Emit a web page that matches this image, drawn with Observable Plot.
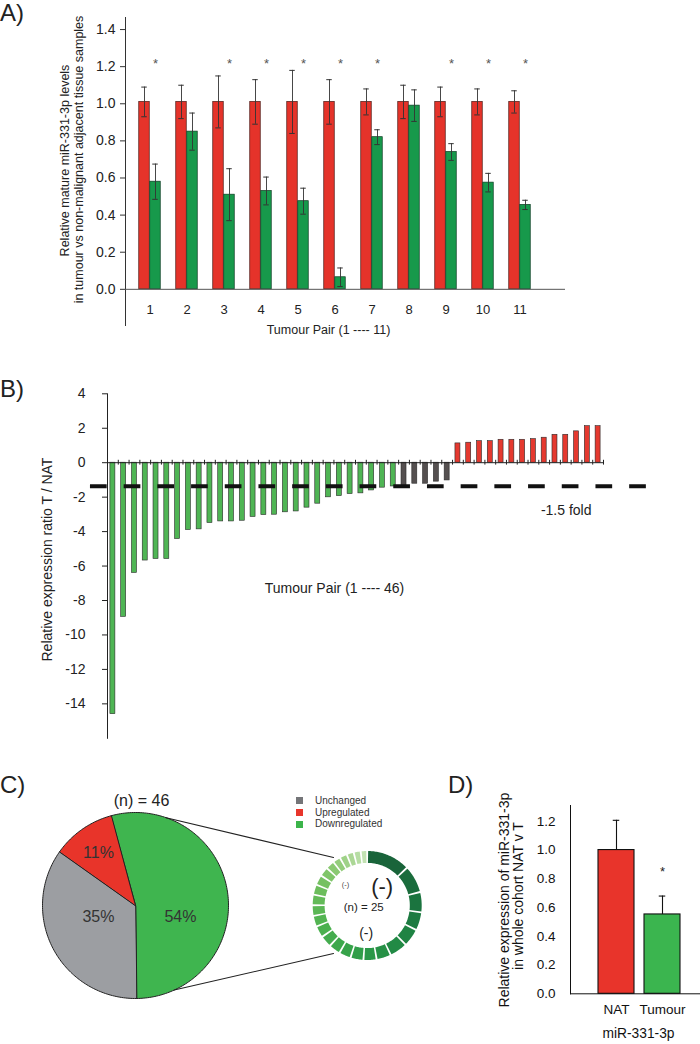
<!DOCTYPE html>
<html><head><meta charset="utf-8">
<script src="https://cdn.jsdelivr.net/npm/d3@7"></script>
<script src="https://cdn.jsdelivr.net/npm/@observablehq/plot@0.6"></script>
<style>
html,body{margin:0;padding:0;background:#fff;}
#fig{position:relative;width:700px;height:1044px;overflow:hidden;background:#fff;font-family:"Liberation Sans",Arial,Helvetica,sans-serif;color:#222;}
.panel{position:absolute;}
.panel svg{display:block;}
.pa g[aria-label^="y-axis"] text{font-size:14px;font-family:"Liberation Sans",Arial,sans-serif;fill:#222;}
.pb g[aria-label^="y-axis"] text{font-size:14px;font-family:"Liberation Sans",Arial,sans-serif;fill:#222;}
.pd g[aria-label^="y-axis"] text{font-size:13.5px;font-family:"Liberation Sans",Arial,sans-serif;fill:#111;}
.tag{position:absolute;font-size:24px;line-height:24px;color:#222;}
.legend{position:absolute;font-size:10px;color:#333;}
.legend .row{display:flex;align-items:center;height:11.7px;line-height:11.7px;white-space:nowrap;}
.legend .sw{display:inline-block;width:7px;height:7px;margin-right:12px;}
</style></head><body><div id="fig"></div>
<script>
// ---------------- DATA ----------------
// Panel A: paired samples (NAT normalised to 1, tumour relative)
const pairsA = [1,2,3,4,5,6,7,8,9,10,11];
const natA = [1.01,1.01,1.01,1.01,1.01,1.01,1.01,1.01,1.01,1.01,1.01];
const natErrA = [0.08,0.09,0.14,0.12,0.17,0.12,0.07,0.09,0.08,0.07,0.06];
const tumourA = [0.58,0.85,0.51,0.53,0.475,0.065,0.82,0.99,0.74,0.575,0.455];
const tumourErrA = [0.095,0.10,0.14,0.075,0.07,0.05,0.04,0.085,0.045,0.05,0.025];
const significantA = [1,3,4,5,6,7,9,10,11];
const yTicksA = [0,0.2,0.4,0.6,0.8,1.0,1.2,1.4];
const yLabelA = ["Relative mature miR-331-3p levels","in tumour vs non-malignant adjacent tissue samples"];
const xLabelA = "Tumour Pair (1 ---- 11)";

// Panel B: relative expression ratio T / NAT, 46 pairs
const bDown = [-14.6,-8.95,-6.4,-5.68,-5.59,-5.59,-4.43,-3.91,-3.87,-3.5,-3.41,-3.41,-3.37,-3.15,-3.04,-3.02,-2.88,-2.83,-2.61,-2.38,-2.01,-1.94,-1.82,-1.78,-1.61,-1.45,-1.38];
const bUnchanged = [-1.35,-1.22,-1.22,-1.1,-1.03];
const bUp = [1.12,1.16,1.25,1.25,1.33,1.33,1.33,1.37,1.45,1.62,1.62,1.82,2.12,2.12];
const thresholdB = -1.37;
const yTicksB = [-14,-12,-10,-8,-6,-4,-2,0,2,4];
const yLabelB = "Relative expression ratio T / NAT";
const xLabelB = "Tumour Pair (1 ---- 46)";
const thresholdLabelB = "-1.5 fold";

// Panel C: pie of categories and donut of the downregulated cases
const pieCategories = ["Downregulated","Unchanged","Upregulated"];
const piePercents = [54,35,11];
const pieTotal = 46;
const legendOrder = ["Unchanged","Upregulated","Downregulated"];
const donutTotal = 25;
const donutValues = [14.6,8.95,6.4,5.68,5.59,5.59,4.43,3.91,3.87,3.5,3.41,3.41,3.37,3.15,3.04,3.02,2.88,2.83,2.61,2.38,2.01,1.94,1.82,1.78,1.61];

// Panel D: whole cohort
const groupsD = ["NAT","Tumour"];
const meanD = [1.0,0.552];
const errD = [0.207,0.128];
const significantD = ["Tumour"];
const yTicksD = [0,0.2,0.4,0.6,0.8,1.0,1.2];
const yLabelD = ["Relative expression of miR-331-3p","in whole cohort NAT v T"];
const xLabelD = "miR-331-3p";

// ---------------- HELPERS ----------------
const FONT = '"Liberation Sans", Arial, Helvetica, sans-serif';
const fig = document.getElementById("fig");
function place(node, left, top, cls){
  const d = document.createElement("div");
  d.className = "panel " + cls; d.style.left = left + "px"; d.style.top = top + "px";
  d.appendChild(node); fig.appendChild(d);
}
function tag(txt, left, top){
  const d = document.createElement("div");
  d.className = "tag"; d.textContent = txt; d.style.left = left + "px"; d.style.top = top + "px";
  fig.appendChild(d);
}
const svgStyle = (size, color) => `font-family:${FONT};font-size:${size}px;background:none;overflow:visible;color:${color};`;
const mid = {textAnchor:"middle", lineAnchor:"middle"};

// ---------------- PANEL A ----------------
const rowsA = pairsA.map((p,i)=>({pair:p, nat:natA[i], natErr:natErrA[i], tum:tumourA[i], tumErr:tumourErrA[i]}));
const A_RED = "#e5332a", A_GREEN = "#17994b";
const plotA = Plot.plot({
  width:700, height:340, marginLeft:125, marginRight:135, marginTop:17, marginBottom:15,
  style: svgStyle(14, "#333"),
  x:{type:"band", domain:pairsA, range:[128.25,540.75], padding:0, axis:null},
  y:{domain:[-0.195,1.465], ticks:yTicksA, tickFormat:".1f", tickSize:5, tickPadding:5, line:true, label:null},
  marks:[
    Plot.barY(rowsA, {x:"pair", y:"nat", fill:A_RED, stroke:"#4a1a15", strokeWidth:0.7, insetLeft:7.75, insetRight:18.75}),
    Plot.barY(rowsA, {x:"pair", y:"tum", fill:A_GREEN, stroke:"#0d3b22", strokeWidth:0.7, insetLeft:18.75, insetRight:7.75}),
    Plot.ruleY([0], {stroke:"#555"}),
    Plot.ruleX(rowsA, {x:"pair", y1:d=>d.nat-d.natErr, y2:d=>d.nat+d.natErr, dx:-5.5, stroke:"#333", strokeWidth:0.9}),
    Plot.ruleX(rowsA, {x:"pair", y1:d=>d.tum-d.tumErr, y2:d=>d.tum+d.tumErr, dx:5.5, stroke:"#333", strokeWidth:0.9}),
    Plot.tickY(rowsA, {x:"pair", y:d=>d.nat+d.natErr, insetLeft:10.25, insetRight:21.25, stroke:"#333"}),
    Plot.tickY(rowsA, {x:"pair", y:d=>d.nat-d.natErr, insetLeft:10.25, insetRight:21.25, stroke:"#333"}),
    Plot.tickY(rowsA, {x:"pair", y:d=>d.tum+d.tumErr, insetLeft:21.25, insetRight:10.25, stroke:"#333"}),
    Plot.tickY(rowsA, {x:"pair", y:d=>d.tum-d.tumErr, insetLeft:21.25, insetRight:10.25, stroke:"#333"}),
    Plot.text(significantA, {x:d=>d, y:1.215, text:()=>"*", dx:5.5, fontSize:13, fill:"#555", ...mid}),
    Plot.text(pairsA, {x:d=>d, frameAnchor:"bottom", dy:-16, text:d=>String(d), fontSize:13, fill:"#222", ...mid}),
    Plot.text([xLabelA], {frameAnchor:"bottom", dx:-17, dy:4.3, text:d=>d, fontSize:12.5, fill:"#222", ...mid}),
    Plot.text([yLabelA[0]], {frameAnchor:"left", rotate:-90, dx:-61, dy:-11, text:d=>d, fontSize:12.5, fill:"#222", ...mid}),
    Plot.text([yLabelA[1]], {frameAnchor:"left", rotate:-90, dx:-47, dy:-12, text:d=>d, fontSize:12.5, fill:"#222", ...mid})
  ]
});
place(plotA, 0, 0, "pa");

// ---------------- PANEL B ----------------
const statusB = ["Downregulated","Unchanged","Upregulated"];
const rowsB = [
  ...bDown.map(v=>({v, s:statusB[0]})),
  ...bUnchanged.map(v=>({v, s:statusB[1]})),
  ...bUp.map(v=>({v, s:statusB[2]}))
].map((d,i)=>({...d, pair:i+1}));
const plotB = Plot.plot({
  width:700, height:380, marginLeft:107, marginRight:97, marginTop:23.3, marginBottom:12.2,
  style: svgStyle(14, "#222"),
  x:{domain:[1, rowsB.length+1], axis:null},
  y:{domain:[-16,4], ticks:yTicksB, tickFormat:d=>String(d), tickSize:5, tickPadding:17, line:true, label:null},
  color:{domain:statusB, range:["#4fb554","#555050","#e5392f"]},
  marks:[
    Plot.rect(rowsB, {x1:d=>d.pair, x2:d=>d.pair+1, y1:0, y2:"v", fill:"s", stroke:"#2a2a2a", strokeWidth:0.6, insetLeft:2.9, insetRight:2.9}),
    Plot.ruleY([0], {stroke:"#222"}),
    Plot.ruleX(rowsB, {x:d=>d.pair+1, y1:-0.14, y2:0.14, stroke:"#222"}),
    Plot.ruleY([thresholdB], {x1:-0.58, x2:51.0, stroke:"#111", strokeWidth:4, strokeDasharray:"16.7 17"}),
    Plot.text([xLabelB], {frameAnchor:"top-left", dx:227, dy:194.7, text:d=>d, fontSize:14, fill:"#222", ...mid}),
    Plot.text([thresholdLabelB], {frameAnchor:"top-left", dx:458.7, dy:116.7, text:d=>d, fontSize:14, fill:"#222", ...mid}),
    Plot.text([yLabelB], {frameAnchor:"left", rotate:-90, dx:-59.5, dy:-6.5, text:d=>d, fontSize:14, fill:"#222", ...mid})
  ]
});
place(plotB, 0, 370, "pb");

// ---------------- PANEL C ----------------
const U = 93; // pixels per unit radius of the pie
const deg = Math.PI/180;
const pieColors = {Downregulated:"#3fb54f", Unchanged:"#9c9ea2", Upregulated:"#e8342a"};
const legendColors = {Downregulated:"#3bb44a", Unchanged:"#747578", Upregulated:"#e8352b"};
function arcPoints(a0, a1, rOut, rIn, cx, cy){
  const n = Math.max(2, Math.ceil(Math.abs(a1-a0)/0.02));
  const pts = [];
  for (let k=0;k<=n;k++){ const a=a0+(a1-a0)*k/n; pts.push([cx+rOut*Math.sin(a), cy+rOut*Math.cos(a)]); }
  if (rIn > 0) { for (let k=n;k>=0;k--){ const a=a0+(a1-a0)*k/n; pts.push([cx+rIn*Math.sin(a), cy+rIn*Math.cos(a)]); } }
  else pts.push([cx, cy]);
  return pts;
}
const pieRows = pieCategories.map((c,i)=>({cat:c, pct:piePercents[i]}));
const pieArcs = d3.pie().sort(null).value(d=>d.pct).startAngle(-15*deg).endAngle(345*deg)(pieRows);
const labelNudge = {Downregulated:[-3,17.6], Unchanged:[5.8,-11.4], Upregulated:[-9.4,-13.3]};
const donutC = {x:231.7/U, y:0, rOut:54.5/U, rIn:42.6/U};
const donutArcs = d3.pie().sort(null).value(d=>d).startAngle(0).endAngle(2*Math.PI).padAngle(0.035)(donutValues);
const donutRamp = d3.interpolateRgbBasis(["#19643a","#1d8a45","#3aa94b","#5cb853","#8ac86c","#c2e2b2"]);
const connectors = [[19.2,324.9],[155.4,215.1]];
const connectorR = 58.6/U;

const marksC = [];
pieArcs.forEach(a=>{
  marksC.push(Plot.line(arcPoints(a.startAngle, a.endAngle, 1, 0, 0, 0), {x:d=>d[0], y:d=>d[1], curve:"linear-closed", fill:pieColors[a.data.cat], stroke:"#222", strokeWidth:1, strokeLinejoin:"round"}));
});
donutArcs.forEach((a,i)=>{
  const p = a.padAngle/2;
  marksC.push(Plot.line(arcPoints(a.startAngle+p, a.endAngle-p, donutC.rOut, donutC.rIn, donutC.x, donutC.y), {x:d=>d[0], y:d=>d[1], curve:"linear-closed", fill:donutRamp(i/(donutValues.length-1)), stroke:"none"}));
});
connectors.forEach(([pa, da])=>{
  const pts = [[Math.sin(pa*deg), Math.cos(pa*deg)], [donutC.x+connectorR*Math.sin(da*deg), donutC.y+connectorR*Math.cos(da*deg)]];
  marksC.push(Plot.line(pts, {x:d=>d[0], y:d=>d[1], stroke:"#222", strokeWidth:1.1}));
});
const pieLabels = pieArcs.map(a=>{
  const m = (a.startAngle+a.endAngle)/2;
  return {x:0.52*Math.sin(m), y:0.52*Math.cos(m), text:a.data.pct+"%", cat:a.data.cat};
});
pieLabels.forEach(l=>{
  marksC.push(Plot.text([l], {x:"x", y:"y", text:"text", dx:labelNudge[l.cat][0], dy:labelNudge[l.cat][1], fontSize:16, fill:"#333", ...mid}));
});
marksC.push(Plot.text([`(n) = ${pieTotal}`], {x:0, y:0, dx:6, dy:-105, text:d=>d, fontSize:16, fill:"#222", ...mid}));
marksC.push(Plot.text(["(-)"], {x:donutC.x, y:donutC.y, dx:15, dy:-19, text:d=>d, fontSize:22, fill:"#222", ...mid}));
marksC.push(Plot.text([`(n) = ${donutTotal}`], {x:donutC.x, y:donutC.y, dx:-3.5, dy:2, text:d=>d, fontSize:11.5, fill:"#222", ...mid}));
marksC.push(Plot.text(["(-)"], {x:donutC.x, y:donutC.y, dx:-1, dy:28, text:d=>d, fontSize:14, fill:"#222", ...mid}));
marksC.push(Plot.text(["(-)"], {x:donutC.x, y:donutC.y, dx:-21.7, dy:-21, text:d=>d, fontSize:7.5, fill:"#444", ...mid}));

const plotC = Plot.plot({
  width:440, height:284, margin:0,
  style: svgStyle(14, "#222"),
  x:{domain:[-135/U, 305/U], range:[0,440], axis:null},
  y:{domain:[-139/U, 145/U], range:[284,0], axis:null},
  marks: marksC
});
place(plotC, 0, 760, "pc");

// legend for C (HTML)
const leg = document.createElement("div");
leg.className = "legend"; leg.style.left = "296px"; leg.style.top = "795px";
legendOrder.forEach(c=>{
  const r = document.createElement("div"); r.className = "row";
  const s = document.createElement("span"); s.className = "sw"; s.style.background = legendColors[c];
  r.appendChild(s); r.appendChild(document.createTextNode(c)); leg.appendChild(r);
});
fig.appendChild(leg);

// ---------------- PANEL D ----------------
const rowsD = groupsD.map((g,i)=>({g, m:meanD[i], e:errD[i]}));
const plotD = Plot.plot({
  width:260, height:284, marginLeft:130, marginRight:0, marginTop:45, marginBottom:50.7,
  style: svgStyle(13.5, "#111"),
  x:{type:"band", domain:groupsD, range:[152.75,245.75], padding:0, axis:null},
  y:{domain:[0,1.31], ticks:yTicksD, tickFormat:".1f", tickSize:0, tickPadding:15, line:true, label:null},
  color:{domain:groupsD, range:["#e8342b","#3bb54f"]},
  marks:[
    Plot.barY(rowsD, {x:"g", y:"m", fill:"g", stroke:"#111", strokeWidth:1.1, insetLeft:5, insetRight:5}),
    Plot.ruleX(rowsD, {x:"g", y1:"m", y2:d=>d.m+d.e, stroke:"#111", strokeWidth:1.1}),
    Plot.tickY(rowsD, {x:"g", y:d=>d.m+d.e, insetLeft:19.75, insetRight:19.75, stroke:"#111", strokeWidth:1.1}),
    Plot.ruleY([0], {stroke:"#111"}),
    Plot.text(significantD, {x:d=>d, y:0.847, text:()=>"*", fontSize:13, fill:"#222", ...mid}),
    Plot.text(groupsD, {x:d=>d, frameAnchor:"bottom", dy:16.2, text:d=>d, fontSize:13.5, fill:"#111", ...mid}),
    Plot.text([xLabelD], {frameAnchor:"bottom", dx:3, dy:39.4, text:d=>d, fontSize:13.8, fill:"#111", ...mid}),
    Plot.text([yLabelD[0]], {frameAnchor:"left", rotate:-90, dx:-66, dy:0.4, text:d=>d, fontSize:14, fill:"#111", ...mid}),
    Plot.text([yLabelD[1]], {frameAnchor:"left", rotate:-90, dx:-52, dy:-3.6, text:d=>d, fontSize:14, fill:"#111", ...mid})
  ]
});
place(plotD, 440, 760, "pd");

// panel tags
tag("A)", 0, 1.4);
tag("B)", 0, 376.7);
tag("C)", 0, 772.7);
tag("D)", 448, 772.7);
</script></body></html>
